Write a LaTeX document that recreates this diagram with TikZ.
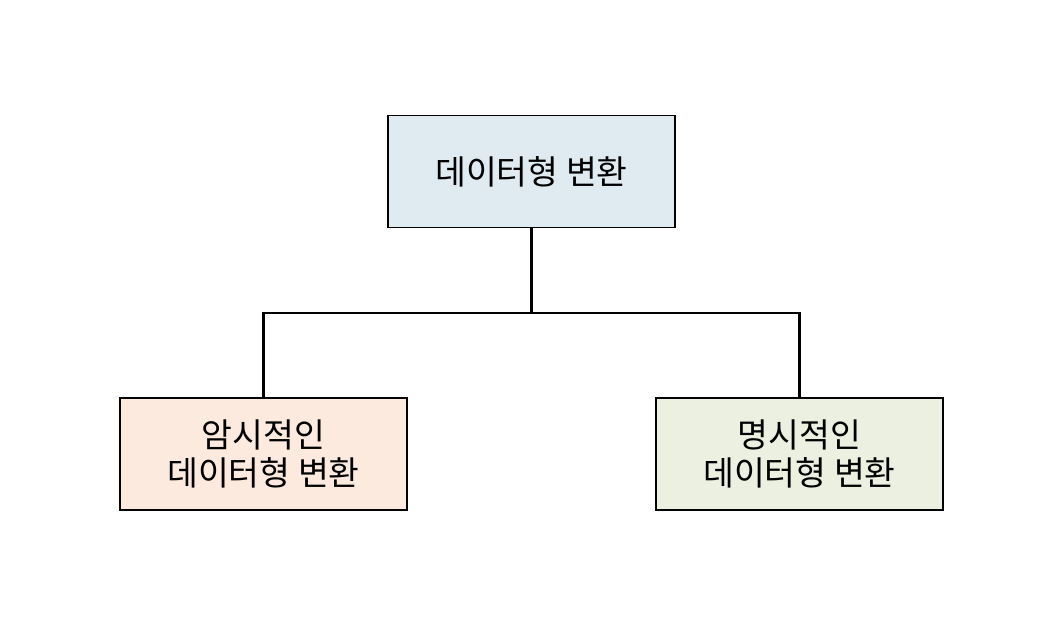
\documentclass[tikz,border=0pt]{standalone}
\usepackage{fontspec}
\newfontfamily\kr{Noto Sans CJK KR}
\definecolor{topfill}{HTML}{DFEBF1}
\definecolor{leftfill}{HTML}{FBEADD}
\definecolor{rightfill}{HTML}{EBF0E0}
\begin{document}
\begin{tikzpicture}[x=1pt,y=-1pt,
  box/.style={draw=black, line width=1.3pt, minimum width=287pt, minimum height=112pt,
    inner sep=0pt, align=center, font=\kr\fontsize{33.5}{38}\selectfont},
  conn/.style={draw=black, line width=2.2pt}]
\useasboundingbox (0,0) rectangle (1062,634);
\node[box, fill=topfill] (top) at (531.5,171.5) {데이터형 변환};
\node[box, fill=leftfill] (left) at (263.5,454) {암시적인\\데이터형 변환};
\node[box, fill=rightfill] (right) at (799.5,454) {명시적인\\데이터형 변환};
\coordinate (mid) at (531.5,313);
\draw[conn] (top.south) -- (mid);
\draw[conn] (left.north) |- (mid) -| (right.north);
\end{tikzpicture}
\end{document}
